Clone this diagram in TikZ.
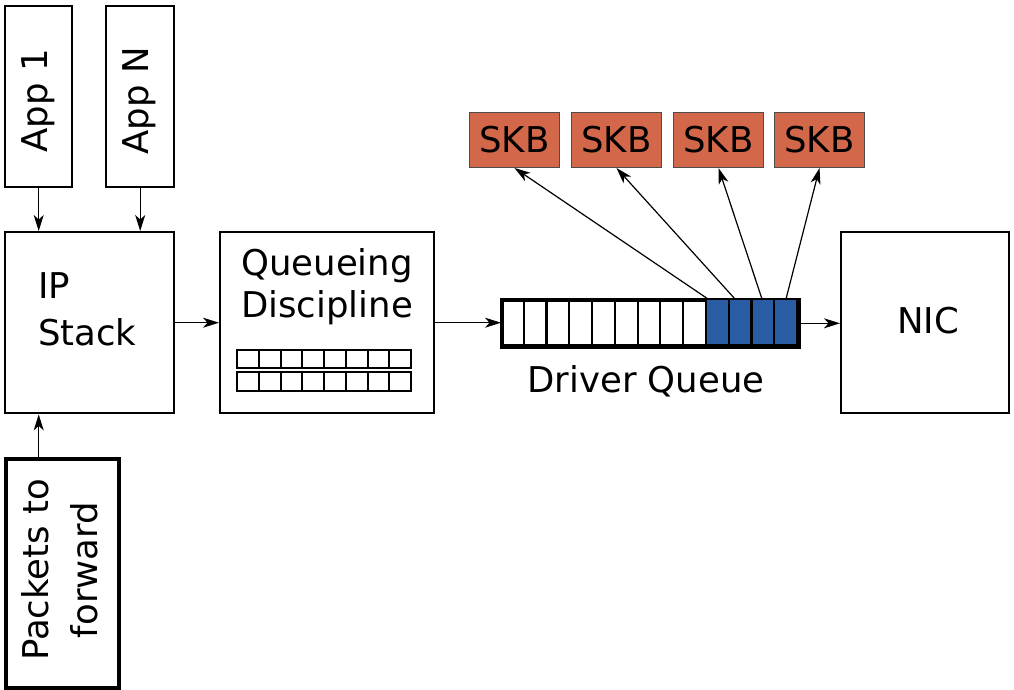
\documentclass[tikz,border=0pt]{standalone}
\usepackage{fontspec}
\usepackage{graphicx}
\setmainfont{DejaVu Sans}
\usetikzlibrary{arrows.meta}
\definecolor{skbred}{RGB}{211,103,74}
\definecolor{qblue}{RGB}{42,92,163}
\begin{document}
\begin{tikzpicture}[x=1pt,y=-1pt,
  box/.style={draw, line width=2.4pt, inner sep=0pt, anchor=north west, font=\fontsize{35.5}{42}\selectfont},
  txt/.style={inner sep=0pt, font=\fontsize{35.5}{42}\selectfont},
  arr/.style={-{Stealth[length=16pt,width=10pt,inset=4.5pt]}, line width=1.2pt, black},
  cell/.style={draw, line width=2.2pt},
  skb/.style={draw=black!70, line width=1pt, fill=skbred, inner sep=0pt, anchor=north west,
              minimum width=90pt, minimum height=55pt, font=\fontsize{35.5}{42}\selectfont}]
\useasboundingbox (0,0) rectangle (1014,690);
\fill[white] (0,0) rectangle (1014,690);

% application boxes
\node[box, minimum width=67pt, minimum height=181pt] (app1) at (4,5) {};
\node[txt, rotate=90] (app1t) at (38,101) {App 1};
\node[box, minimum width=68pt, minimum height=181pt] (appn) at (105,5) {};
\node[txt, rotate=90] (appnt) at (139,101) {App N};

% IP stack
\node[box, minimum width=169pt, minimum height=181pt] (ip) at (4,231) {};
\node[txt, align=left, anchor=west, font=\fontsize{35.5}{47}\selectfont] (iptxt) at (38,309) {IP\\Stack};

% packets to forward
\node[box, line width=3.8pt, minimum width=113pt, minimum height=229pt] (pf) at (4,457) {};
\node[txt, rotate=90, align=center, font=\fontsize{35.5}{49}\selectfont] (pft) at (60,570) {Packets to\\forward};

% queueing discipline
\node[box, minimum width=214pt, minimum height=181pt] (qd) at (219,231) {};
\node[txt, align=center] (qdtxt) at (327,287) {Queueing\\Discipline};
\foreach \r/\ya/\yb in {1/350/368, 2/372/391} {
  \foreach \i in {0,...,7} {
    \draw[cell, line width=2pt] ({237+\i*21.75},\ya) rectangle ({237+(\i+1)*21.75},\yb);
  }
}

% driver queue
\node[draw, line width=2.6pt, inner sep=0pt, anchor=north west, minimum width=296pt, minimum height=46pt] (dq) at (501,299) {};
\foreach \i in {0,...,12} {
  \pgfmathsetmacro{\xa}{501+\i*22.77}
  \pgfmathsetmacro{\xb}{501+(\i+1)*22.77}
  \ifnum\i>8
    \draw[cell, fill=qblue] (\xa,299) rectangle (\xb,345);
  \else
    \draw[cell] (\xa,299) rectangle (\xb,345);
  \fi
}
\draw[line width=2.6pt] (dq.north west) rectangle (dq.south east);
\node[txt] (dqtxt) at (646,381) {Driver Queue};

% NIC
\node[box, minimum width=168pt, minimum height=181pt] (nic) at (840,231) {};
\node[txt] (nict) at (928,321) {NIC};

% SKBs
\node[skb] (skb1) at (469,112) {SKB};
\node[skb] (skb2) at (571,112) {SKB};
\node[skb] (skb3) at (673,112) {SKB};
\node[skb] (skb4) at (774,112) {SKB};

\coordinate (s1) at (708,299);
\coordinate (s2) at (735,299);
\coordinate (s3) at (762,299);
\coordinate (s4) at (786,299);

% connectors
\draw[arr] (app1.south) -- (app1.south |- ip.north);
\draw[arr] (appn.south) -- (appn.south |- ip.north);
\draw[arr] (pf.north -| app1.south) -- (app1.south |- ip.south);
\draw[arr] (ip.east) -- (qd.west);
\draw[arr] (qd.east) -- (qd.east -| dq.west);
\draw[arr] (dq.east) -- (dq.east -| nic.west);
\draw[arr] (s1) -- (skb1.south);
\draw[arr] (s2) -- (skb2.south);
\draw[arr] (s3) -- (skb3.south);
\draw[arr] (s4) -- (skb4.south);
\end{tikzpicture}
\end{document}
